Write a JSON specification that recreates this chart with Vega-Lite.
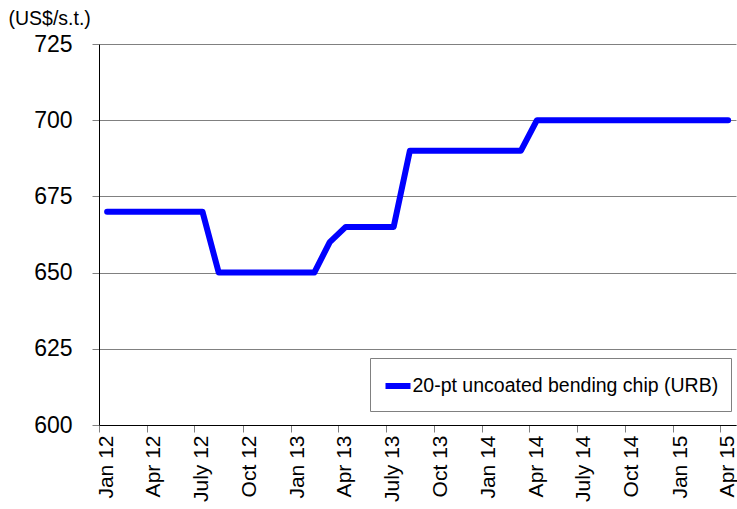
{
  "$schema": "https://vega.github.io/schema/vega-lite/v6.json",
  "width": 637,
  "height": 381,
  "autosize": {"type": "none"},
  "padding": {"left": 99, "top": 44, "right": 1, "bottom": 84},
  "background": "#ffffff",
  "config": {
    "view": {"stroke": null},
    "font": "Liberation Sans",
    "axis": {"labelFont": "Liberation Sans", "titleFont": "Liberation Sans", "labelColor": "#000000", "titleColor": "#000000"},
    "legend": {"labelFont": "Liberation Sans"}
  },
  "data": {
    "values": [
      {"month": "2012-01-01", "price": 670, "series": "20-pt uncoated bending chip (URB)"},
      {"month": "2012-02-01", "price": 670, "series": "20-pt uncoated bending chip (URB)"},
      {"month": "2012-03-01", "price": 670, "series": "20-pt uncoated bending chip (URB)"},
      {"month": "2012-04-01", "price": 670, "series": "20-pt uncoated bending chip (URB)"},
      {"month": "2012-05-01", "price": 670, "series": "20-pt uncoated bending chip (URB)"},
      {"month": "2012-06-01", "price": 670, "series": "20-pt uncoated bending chip (URB)"},
      {"month": "2012-07-01", "price": 670, "series": "20-pt uncoated bending chip (URB)"},
      {"month": "2012-08-01", "price": 650, "series": "20-pt uncoated bending chip (URB)"},
      {"month": "2012-09-01", "price": 650, "series": "20-pt uncoated bending chip (URB)"},
      {"month": "2012-10-01", "price": 650, "series": "20-pt uncoated bending chip (URB)"},
      {"month": "2012-11-01", "price": 650, "series": "20-pt uncoated bending chip (URB)"},
      {"month": "2012-12-01", "price": 650, "series": "20-pt uncoated bending chip (URB)"},
      {"month": "2013-01-01", "price": 650, "series": "20-pt uncoated bending chip (URB)"},
      {"month": "2013-02-01", "price": 650, "series": "20-pt uncoated bending chip (URB)"},
      {"month": "2013-03-01", "price": 660, "series": "20-pt uncoated bending chip (URB)"},
      {"month": "2013-04-01", "price": 665, "series": "20-pt uncoated bending chip (URB)"},
      {"month": "2013-05-01", "price": 665, "series": "20-pt uncoated bending chip (URB)"},
      {"month": "2013-06-01", "price": 665, "series": "20-pt uncoated bending chip (URB)"},
      {"month": "2013-07-01", "price": 665, "series": "20-pt uncoated bending chip (URB)"},
      {"month": "2013-08-01", "price": 690, "series": "20-pt uncoated bending chip (URB)"},
      {"month": "2013-09-01", "price": 690, "series": "20-pt uncoated bending chip (URB)"},
      {"month": "2013-10-01", "price": 690, "series": "20-pt uncoated bending chip (URB)"},
      {"month": "2013-11-01", "price": 690, "series": "20-pt uncoated bending chip (URB)"},
      {"month": "2013-12-01", "price": 690, "series": "20-pt uncoated bending chip (URB)"},
      {"month": "2014-01-01", "price": 690, "series": "20-pt uncoated bending chip (URB)"},
      {"month": "2014-02-01", "price": 690, "series": "20-pt uncoated bending chip (URB)"},
      {"month": "2014-03-01", "price": 690, "series": "20-pt uncoated bending chip (URB)"},
      {"month": "2014-04-01", "price": 700, "series": "20-pt uncoated bending chip (URB)"},
      {"month": "2014-05-01", "price": 700, "series": "20-pt uncoated bending chip (URB)"},
      {"month": "2014-06-01", "price": 700, "series": "20-pt uncoated bending chip (URB)"},
      {"month": "2014-07-01", "price": 700, "series": "20-pt uncoated bending chip (URB)"},
      {"month": "2014-08-01", "price": 700, "series": "20-pt uncoated bending chip (URB)"},
      {"month": "2014-09-01", "price": 700, "series": "20-pt uncoated bending chip (URB)"},
      {"month": "2014-10-01", "price": 700, "series": "20-pt uncoated bending chip (URB)"},
      {"month": "2014-11-01", "price": 700, "series": "20-pt uncoated bending chip (URB)"},
      {"month": "2014-12-01", "price": 700, "series": "20-pt uncoated bending chip (URB)"},
      {"month": "2015-01-01", "price": 700, "series": "20-pt uncoated bending chip (URB)"},
      {"month": "2015-02-01", "price": 700, "series": "20-pt uncoated bending chip (URB)"},
      {"month": "2015-03-01", "price": 700, "series": "20-pt uncoated bending chip (URB)"},
      {"month": "2015-04-01", "price": 700, "series": "20-pt uncoated bending chip (URB)"}
    ]
  },
  "mark": {"type": "line", "strokeWidth": 6, "strokeCap": "round", "strokeJoin": "round"},
  "encoding": {
    "x": {
      "field": "month",
      "timeUnit": "utcyearmonth",
      "type": "temporal",
      "bandPosition": 0.5,
      "scale": {
        "domain": [
          {"year": 2012, "month": 1, "date": 1, "utc": true},
          {"year": 2015, "month": 5, "date": 1, "utc": true}
        ]
      },
      "axis": {
        "title": null,
        "values": [
          {"year": 2012, "month": 1, "date": 1, "utc": true},
          {"year": 2012, "month": 4, "date": 1, "utc": true},
          {"year": 2012, "month": 7, "date": 1, "utc": true},
          {"year": 2012, "month": 10, "date": 1, "utc": true},
          {"year": 2013, "month": 1, "date": 1, "utc": true},
          {"year": 2013, "month": 4, "date": 1, "utc": true},
          {"year": 2013, "month": 7, "date": 1, "utc": true},
          {"year": 2013, "month": 10, "date": 1, "utc": true},
          {"year": 2014, "month": 1, "date": 1, "utc": true},
          {"year": 2014, "month": 4, "date": 1, "utc": true},
          {"year": 2014, "month": 7, "date": 1, "utc": true},
          {"year": 2014, "month": 10, "date": 1, "utc": true},
          {"year": 2015, "month": 1, "date": 1, "utc": true},
          {"year": 2015, "month": 4, "date": 1, "utc": true}
        ],
        "labelExpr": "utcFormat(datum.value, '%m') == '07' ? 'July ' + utcFormat(datum.value, '%y') : utcFormat(datum.value, '%b %y')",
        "labelAngle": 270,
        "labelAlign": "right",
        "labelBaseline": "middle",
        "labelOffset": 7,
        "labelPadding": 3,
        "labelFontSize": 21,
        "labelFlush": false,
        "labelOverlap": false,
        "grid": false,
        "domainColor": "#000000",
        "domainWidth": 1,
        "tickColor": "#808080",
        "tickSize": 7,
        "tickWidth": 1
      }
    },
    "y": {
      "field": "price",
      "type": "quantitative",
      "scale": {"domain": [600, 725], "nice": false, "zero": false},
      "axis": {
        "title": "(US$/s.t.)",
        "titleAngle": 0,
        "titleAlign": "left",
        "titleBaseline": "alphabetic",
        "titleX": -91,
        "titleY": -20,
        "titleFontSize": 19.5,
        "titleFontWeight": "normal",
        "values": [600, 625, 650, 675, 700, 725],
        "labelFontSize": 23,
        "labelPadding": 20,
        "grid": true,
        "gridColor": "#808080",
        "gridWidth": 1,
        "domainColor": "#000000",
        "domainWidth": 1,
        "tickColor": "#808080",
        "tickSize": 7,
        "tickWidth": 1
      }
    },
    "color": {
      "field": "series",
      "type": "nominal",
      "scale": {"range": ["#0000ff"]},
      "legend": {
        "title": null,
        "orient": "none",
        "legendX": 271,
        "legendY": 314,
        "padding": 12.5,
        "fillColor": "#ffffff",
        "strokeColor": "#808080",
        "symbolType": "stroke",
        "symbolSize": 625,
        "symbolStrokeWidth": 6,
        "labelFontSize": 19.5,
        "labelOffset": -1,
        "labelLimit": 400,
        "labelColor": "#000000"
      }
    }
  }
}
